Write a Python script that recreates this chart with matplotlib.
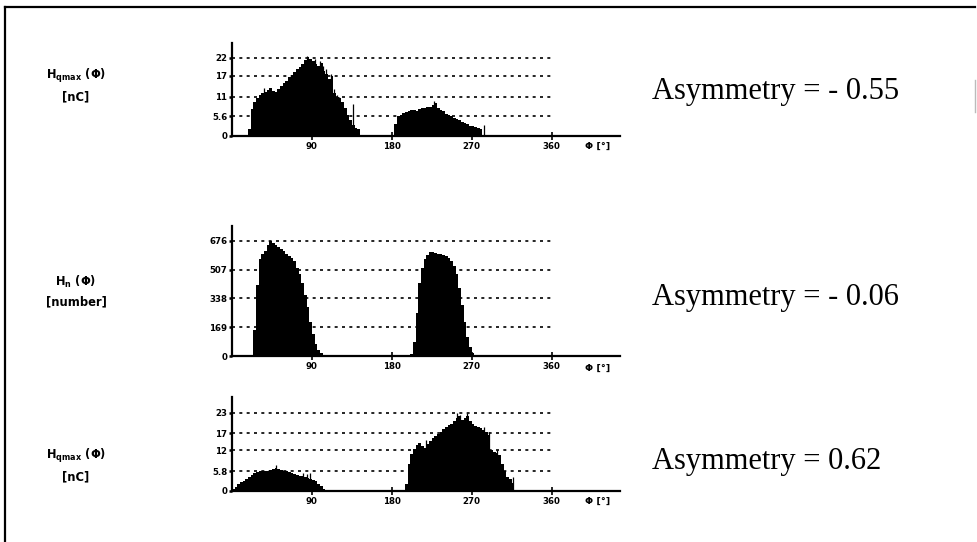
import numpy as np
import matplotlib.pyplot as plt
from matplotlib.lines import Line2D

# phase bins, 3 degrees wide
BIN = 3
phi = np.arange(0, 360, BIN)

# top panel: H_qmax(phi) [nC]
qmax1_ticks = [0, 5.6, 11, 17, 22]
qmax1_a_start, qmax1_a = 18, [2, 7.5, 9.5, 10.8, 11.5, 12.0, 12.4, 13.0, 13.4, 12.6,
                              12.3, 13.2, 14.2, 15.0, 15.6, 16.5, 17.2, 18.0, 18.8, 19.5,
                              20.4, 21.3, 22.2, 21.6, 21.0, 20.3, 19.6, 20.5, 18.2, 17.5,
                              16.0, 16.8, 12.0, 11.0, 10.6, 9.5, 8.0, 5.8, 4.5, 3.0, 2.2, 2.0]
qmax1_b_start, qmax1_b = 183, [3.5, 5.5, 6.0, 6.4, 6.8, 7.0, 7.2, 7.4, 7.1, 7.6,
                               7.8, 8.0, 8.3, 8.1, 8.6, 9.3, 7.8, 7.4, 7.0, 6.2,
                               6.0, 5.6, 5.2, 4.8, 4.4, 3.9, 3.6, 3.4, 2.9, 2.7,
                               2.5, 2.3, 2.0]
qmax1_spk_phi = [36, 84, 94, 99, 103, 106, 112, 115, 118, 121, 136, 228, 284]
qmax1_spk_val = [13.6, 22.6, 21.6, 21.0, 19.6, 18.8, 17.4, 13.2, 11.6, 11.0, 9.0, 9.8, 3.1]

# middle panel: H_n(phi) [number]
hn_ticks = [0, 169, 338, 507, 676]
hn_a_start, hn_a = 24, [150, 420, 570, 600, 620, 650, 676, 665, 650, 640,
                        628, 615, 600, 590, 575, 560, 520, 480, 430, 360,
                        290, 200, 130, 70, 35, 15, 8, 5, 3, 2,
                        2, 1, 1, 1, 1]
hn_b_start, hn_b = 200, [2, 10, 80, 250, 430, 520, 570, 595, 610, 612,
                         605, 600, 598, 595, 585, 575, 560, 530, 480, 400,
                         300, 200, 110, 50, 20, 8, 4, 2, 1, 1]

# bottom panel: H_qmax(phi) [nC]
qmax2_ticks = [0, 5.8, 12, 17, 23]
qmax2_a_start, qmax2_a = 0, [0.5, 1.2, 2.0, 2.6, 3.0, 3.6, 4.2, 4.8, 5.2, 5.6,
                             5.8, 5.9, 6.0, 5.8, 6.2, 6.4, 6.8, 6.4, 6.2, 6.0,
                             5.8, 5.5, 5.2, 5.0, 4.7, 4.5, 4.3, 4.1, 3.8, 3.5,
                             3.2, 2.8, 2.2, 1.6, 0.5]
qmax2_b_start, qmax2_b = 195, [2.0, 8.0, 11.0, 12.5, 13.5, 14.0, 13.2, 12.6, 13.8, 14.6,
                               15.5, 16.2, 16.8, 17.5, 18.2, 18.8, 19.4, 19.8, 20.5, 21.5,
                               22.2, 21.0, 21.5, 22.0, 20.5, 19.8, 19.2, 18.8, 18.5, 18.0,
                               17.5, 16.5, 12.0, 11.5, 11.2, 10.5, 8.0, 5.8, 4.0, 3.5,
                               2.5]
qmax2_spk_phi = [49, 80, 84, 88, 219, 253, 257, 265, 284, 289, 299, 316]
qmax2_spk_val = [7.8, 5.2, 5.0, 5.2, 15.0, 23.0, 22.5, 23.0, 19.0, 17.5, 12.0, 4.0]

labels = [("H$_{\\mathbf{qmax}}$ (Φ)", "[nC]"),
          ("H$_{\\mathbf{n}}$ (Φ)", "[number]"),
          ("H$_{\\mathbf{qmax}}$ (Φ)", "[nC]")]
asym = ["Asymmetry = - 0.55", "Asymmetry = - 0.06", "Asymmetry = 0.62"]
xticks = [90, 180, 270, 360]


def series(parts):
    h = np.zeros(len(phi))
    for start, vals in parts:
        i = start // BIN
        h[i:i + len(vals)] = vals
    return h


def panel(fig, rect, h, ticks, ytop, spk=None):
    ax = fig.add_axes(rect)
    ax.bar(phi, h, width=BIN, align='edge', color='black', linewidth=0)
    if spk is not None:
        ax.vlines(spk[0], 0, spk[1], color='black', lw=0.9)
    for t in ticks[1:]:
        ax.plot([0, 360], [t, t], color='black', lw=1.2, ls=(0, (1.8, 2.6)))
    ax.set_xlim(0, 437)
    ax.set_ylim(0, ytop)
    for s in ['top', 'right']:
        ax.spines[s].set_visible(False)
    ax.spines['left'].set_linewidth(1.6)
    ax.spines['bottom'].set_linewidth(1.6)
    ax.set_yticks(ticks)
    ax.set_yticklabels([f"{t:g}" for t in ticks], fontsize=6.2, fontweight='heavy')
    ax.set_xticks(xticks)
    ax.set_xticklabels([str(t) for t in xticks], fontsize=6.2, fontweight='heavy')
    ax.tick_params(axis='y', length=2.5, width=1.8, pad=1)
    ax.tick_params(axis='x', direction='inout', length=6, width=1.2, pad=1)
    ax.text(412, -0.06, "Φ [°]", transform=ax.get_xaxis_transform(),
            ha='center', va='top', fontsize=6.8, fontweight='heavy')
    return ax


fig = plt.figure(figsize=(9.78, 5.42), dpi=100)
W, H = 978, 542


def rect(top, bottom):
    return [232 / W, 1 - bottom / H, 388 / W, (bottom - top) / H]


h1 = series([(qmax1_a_start, qmax1_a), (qmax1_b_start, qmax1_b)])
h2 = series([(hn_a_start, hn_a), (hn_b_start, hn_b)])
h3 = series([(qmax2_a_start, qmax2_a), (qmax2_b_start, qmax2_b)])

panel(fig, rect(43, 136), h1, qmax1_ticks, 26.2, (qmax1_spk_phi, qmax1_spk_val))
panel(fig, rect(226, 356), h2, hn_ticks, 764)
panel(fig, rect(397, 491), h3, qmax2_ticks, 27.7, (qmax2_spk_phi, qmax2_spk_val))

label_y = [(76, 97), (282, 302), (456, 477)]
for (l1, l2), (y1, y2) in zip(labels, label_y):
    fig.text(76 / W, 1 - y1 / H, l1, ha='center', va='center', fontsize=8.3, fontweight='bold')
    fig.text(76 / W, 1 - y2 / H, l2, ha='center', va='center', fontsize=8.3, fontweight='bold')

for s, y in zip(asym, [92, 297, 461]):
    fig.text(652 / W, 1 - y / H, s, ha='left', va='center',
             fontsize=22, family='Liberation Serif')

# scanned frame around the figure
fig.add_artist(Line2D([5 / W, 975 / W], [1 - 7 / H, 1 - 7 / H], color='black', lw=1.6))
fig.add_artist(Line2D([5 / W, 5 / W], [1 - 7 / H, 0], color='black', lw=1.6))
fig.add_artist(Line2D([975 / W, 975 / W], [1 - 80 / H, 1 - 112 / H], color='#bbbbbb', lw=1))

fig.savefig("out.png", dpi=100)
